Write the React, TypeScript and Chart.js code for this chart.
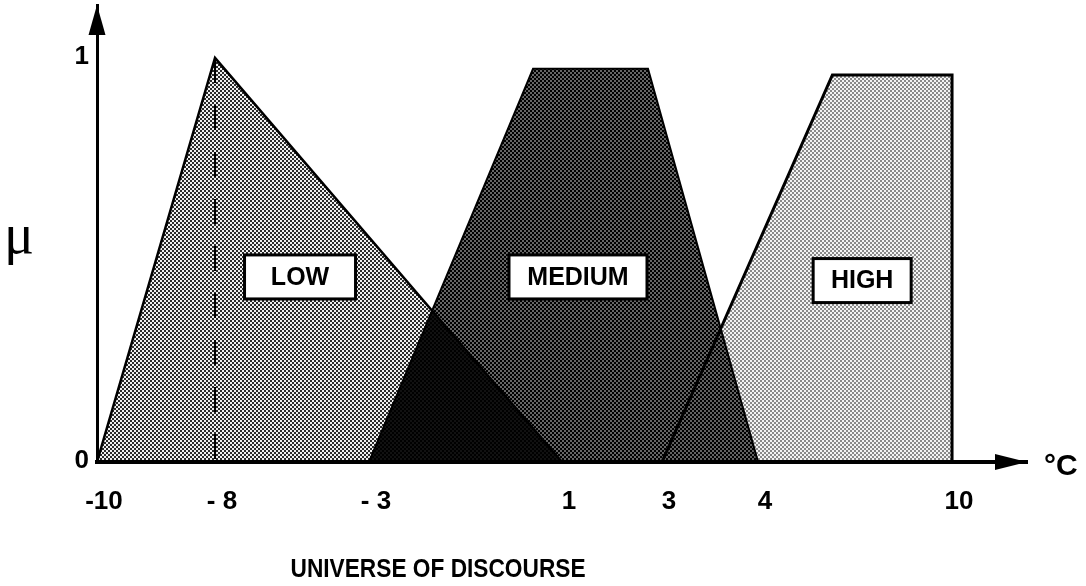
import React, { useEffect, useRef } from 'react';
import { Chart, registerables, LinearScale } from 'chart.js';

Chart.register(...registerables);

// ---------------- data ----------------
// temperature axis (°C) ticks as printed
const TEMP_TICKS = [-10, -8, -3, 1, 3, 4, 10];
const TEMP_TICK_LABELS = ['-10', '- 8', '- 3', '1', '3', '4', '10'];
// membership axis ticks
const MU_TICKS = [0, 1];
const MU_TICK_LABELS = ['0', '1'];

// fuzzy sets: breakpoints (°C) and membership degree
const LOW_X = [-10, -8, 1];
const LOW_MU = [0, 1, 0];
const MEDIUM_X = [-3, 0.4, 2.72, 4];
const MEDIUM_MU = [0, 0.973, 0.973, 0];
const HIGH_X = [3, 6.3, 10, 10];
const HIGH_MU = [0, 0.958, 0.958, 0];
// dashed marker at the LOW peak
const PEAK_X = [-8, -8];
const PEAK_MU = [1, 0];

// set names and where their label sits (°C, membership)
const SET_NAMES = ['LOW', 'MEDIUM', 'HIGH'];
const SET_LABEL_X = [-5.24, 1.32, 7.22];
const SET_LABEL_MU = [0.458, 0.458, 0.449];

const AXIS_TITLE = 'UNIVERSE OF DISCOURSE';
const UNIT_LABEL = '°C';
const MU_LABEL = 'μ';

// ---------------- non-uniform (schematic) temperature scale ----------------
// the printed axis is not to scale: values map piecewise-linearly onto the axis
const KNOT_VALUES = [-10, -8, -3, 1, 3, 4, 10, 12];
const KNOT_FRACTIONS = [0, 0.1269, 0.2925, 0.5, 0.6075, 0.7108, 0.9194, 1];

class PiecewiseScale extends LinearScale {
  static id = 'piecewise';
  static defaults = LinearScale.defaults;
  toFraction(v: number) {
    const V = KNOT_VALUES, F = KNOT_FRACTIONS;
    let i = 0;
    while (i < V.length - 2 && v > V[i + 1]) i++;
    return F[i] + ((v - V[i]) * (F[i + 1] - F[i])) / (V[i + 1] - V[i]);
  }
  getPixelForValue(v: number) {
    return this.getPixelForDecimal(this.toFraction(v));
  }
  getValueForPixel(p: number) {
    const d = this.getDecimalForPixel(p);
    const V = KNOT_VALUES, F = KNOT_FRACTIONS;
    let i = 0;
    while (i < F.length - 2 && d > F[i + 1]) i++;
    return V[i] + ((d - F[i]) * (V[i + 1] - V[i])) / (F[i + 1] - F[i]);
  }
}
Chart.register(PiecewiseScale as any);

const SANS = '"Liberation Sans", Arial, Helvetica, sans-serif';
const SERIF = '"Liberation Serif", "Times New Roman", serif';

function stipple(dark: string, light: string, invert: boolean) {
  const c = document.createElement('canvas');
  c.width = 4;
  c.height = 4;
  const g = c.getContext('2d')!;
  g.fillStyle = light;
  g.fillRect(0, 0, 4, 4);
  g.fillStyle = dark;
  if (!invert) {
    g.fillRect(0, 0, 2, 2);
    g.fillRect(2, 2, 2, 2);
  } else {
    g.fillRect(2, 0, 2, 2);
    g.fillRect(0, 2, 2, 2);
  }
  return g.createPattern(c, 'repeat');
}

const pts = (xs: number[], ys: number[]) => xs.map((x, i) => ({ x, y: ys[i] }));

const decorPlugin = {
  id: 'fuzzyDecor',
  beforeDatasetsDraw(chart: any) {
    chart.ctx.save();
    chart.ctx.globalCompositeOperation = 'multiply';
  },
  afterDatasetsDraw(chart: any, _args: any, opts: any) {
    const ctx = chart.ctx;
    ctx.restore();
    const xs = chart.scales.x;
    const ys = chart.scales.y;
    ctx.save();
    ctx.font = `bold 25px ${SANS}`;
    ctx.textAlign = 'center';
    ctx.textBaseline = 'middle';
    SET_NAMES.forEach((name, i) => {
      const cx = xs.getPixelForValue(SET_LABEL_X[i]);
      const cy = ys.getPixelForValue(SET_LABEL_MU[i]);
      const w = opts.boxWidths[i];
      const h = opts.boxHeight;
      ctx.fillStyle = '#ffffff';
      ctx.fillRect(cx - w / 2, cy - h / 2, w, h);
      ctx.lineWidth = 3;
      ctx.strokeStyle = '#000';
      ctx.strokeRect(cx - w / 2, cy - h / 2, w, h);
      ctx.fillStyle = '#000';
      ctx.fillText(name, cx, cy + 1);
    });
    ctx.restore();
  },
  afterDraw(chart: any) {
    const ctx = chart.ctx;
    const a = chart.chartArea;
    ctx.save();
    ctx.fillStyle = '#000';
    // y-axis arrow head
    ctx.beginPath();
    ctx.moveTo(a.left, a.top);
    ctx.lineTo(a.left - 8.5, a.top + 30);
    ctx.lineTo(a.left + 8.5, a.top + 30);
    ctx.closePath();
    ctx.fill();
    // x-axis arrow head
    ctx.beginPath();
    ctx.moveTo(a.right, a.bottom);
    ctx.lineTo(a.right - 32, a.bottom - 8);
    ctx.lineTo(a.right - 32, a.bottom + 8);
    ctx.closePath();
    ctx.fill();
    // unit label
    ctx.font = `bold 30px ${SANS}`;
    ctx.textAlign = 'left';
    ctx.textBaseline = 'alphabetic';
    ctx.fillText(UNIT_LABEL, a.right + 17, a.bottom + 13);
    // mu label
    ctx.font = `56px ${SERIF}`;
    ctx.fillText(MU_LABEL, 4, a.top + (a.bottom - a.top) * 0.542);
    // axis title
    ctx.font = `bold 25px ${SANS}`;
    ctx.textAlign = 'center';
    ctx.fillText(AXIS_TITLE, a.left + (a.right - a.left) * 0.3667, chart.height - 9, 295);
    ctx.restore();
  },
};

export default function App() {
  const ref = useRef<HTMLCanvasElement>(null);
  useEffect(() => {
    document.body.style.margin = '0';
    const canvas = ref.current!;
    const lowFill = stipple('#2a2a2a', '#f0f0f0', true);
    const medFill = stipple('#000000', '#666666', false);
    const highFill = stipple('#8a8a8a', '#f4f4f4', false);
    const chart = new Chart(canvas, {
      type: 'line',
      data: {
        datasets: [
          {
            label: 'peak',
            data: pts(PEAK_X, PEAK_MU),
            borderColor: '#000',
            borderWidth: 2,
            borderDash: [25, 22],
            fill: false,
            pointRadius: 0,
            order: 0,
          },
          {
            label: 'LOW',
            data: pts(LOW_X, LOW_MU),
            borderColor: '#000',
            borderWidth: 2.5,
            backgroundColor: lowFill as any,
            fill: 'origin',
            pointRadius: 0,
            order: 1,
          },
          {
            label: 'MEDIUM',
            data: pts(MEDIUM_X, MEDIUM_MU),
            borderColor: '#000',
            borderWidth: 2,
            backgroundColor: medFill as any,
            fill: 'origin',
            pointRadius: 0,
            order: 2,
          },
          {
            label: 'HIGH',
            data: pts(HIGH_X, HIGH_MU),
            borderColor: '#000',
            borderWidth: 3,
            backgroundColor: highFill as any,
            fill: 'origin',
            pointRadius: 0,
            order: 3,
          },
        ],
      },
      options: {
        animation: false,
        responsive: false,
        devicePixelRatio: 1,
        layout: { padding: { left: 0, top: 5, right: 59, bottom: 0 } },
        elements: { line: { tension: 0 } },
        plugins: {
          legend: { display: false },
          tooltip: { enabled: false },
          fuzzyDecor: { boxWidths: [111, 138, 98], boxHeight: 44 },
        } as any,
        scales: {
          x: {
            type: 'piecewise' as any,
            min: -10,
            max: 12,
            grid: { display: false, drawTicks: false },
            border: { display: true, color: '#000', width: 4 },
            afterFit: (s: any) => {
              s.height = 124;
              s.paddingLeft = 0;
              s.paddingRight = 0;
            },
            afterBuildTicks: (s: any) => {
              s.ticks = TEMP_TICKS.map((v) => ({ value: v }));
            },
            ticks: {
              autoSkip: false,
              maxRotation: 0,
              padding: 24,
              labelOffset: 7,
              color: '#000',
              font: { family: SANS, size: 26, weight: 'bold' },
              callback: (_v: any, i: number) => TEMP_TICK_LABELS[i],
            },
          } as any,
          y: {
            type: 'linear',
            min: 0,
            max: 1.131,
            grid: { display: false, drawTicks: false },
            border: { display: true, color: '#000', width: 3 },
            afterFit: (s: any) => {
              s.width = 97;
              s.paddingTop = 0;
              s.paddingBottom = 0;
            },
            afterBuildTicks: (s: any) => {
              s.ticks = MU_TICKS.map((v) => ({ value: v }));
            },
            ticks: {
              padding: 8,
              labelOffset: -1,
              color: '#000',
              font: { family: SANS, size: 26, weight: 'bold' },
              callback: (_v: any, i: number) => MU_TICK_LABELS[i],
            },
          },
        },
      },
      plugins: [decorPlugin],
    });
    return () => chart.destroy();
  }, []);
  return (
    <div style={{ width: 1086, height: 586, background: '#fff' }}>
      <canvas ref={ref} width={1086} height={586} style={{ display: 'block' }} />
    </div>
  );
}
